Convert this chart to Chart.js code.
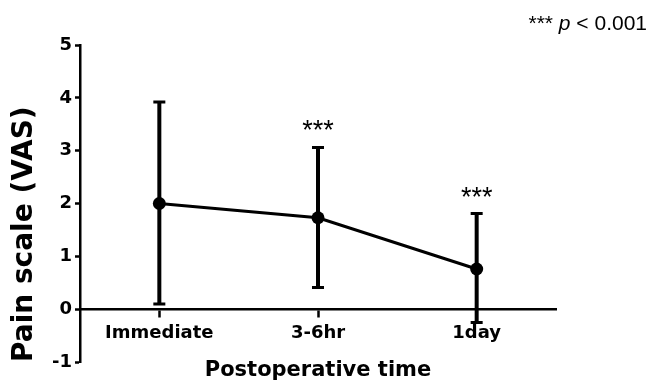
<!DOCTYPE html>
<html>
<head>
    <title>Pain scale</title>
    <script src="https://cdn.jsdelivr.net/npm/chart.js"></script>
    <style>
        body { margin: 0; background: #fff; }
        #wrap { width: 649px; height: 382px; position: relative; }
    </style>
</head>
<body>
<div id="wrap"><canvas id="painChart"></canvas></div>
<script>
    // values
    const timepoints = ['Immediate', '3-6hr', '1day'];
    const meanVas = [2.0, 1.73, 0.76];
    const lowerVas = [0.1, 0.41, -0.25];
    const upperVas = [3.92, 3.06, 1.81];
    const sigMarks = ['', '***', '***'];
    const yTicks = [-1, 0, 1, 2, 3, 4, 5];

    const axisFont = 'DejaVu Sans';

    // error bars + significance stars, placed with the chart's own scales
    const errorBars = {
        id: 'errorBars',
        beforeDatasetsDraw(chart) {
            const ctx = chart.ctx;
            const x = chart.scales.x;
            const y = chart.scales.y;
            ctx.save();
            ctx.strokeStyle = '#000';
            ctx.fillStyle = '#000';
            for (let i = 0; i < timepoints.length; i++) {
                const px = x.getPixelForValue(i);
                const top = y.getPixelForValue(upperVas[i]);
                const bot = y.getPixelForValue(lowerVas[i]);
                ctx.lineWidth = 4;
                ctx.beginPath();
                ctx.moveTo(px, top);
                ctx.lineTo(px, bot);
                ctx.stroke();
                ctx.lineWidth = 3;
                ctx.beginPath();
                ctx.moveTo(px - 6, top);
                ctx.lineTo(px + 6, top);
                ctx.moveTo(px - 6, bot);
                ctx.lineTo(px + 6, bot);
                ctx.stroke();
                if (sigMarks[i]) {
                    ctx.font = '27px "Liberation Sans"';
                    ctx.textAlign = 'center';
                    ctx.textBaseline = 'alphabetic';
                    ctx.fillText(sigMarks[i], px, top - 8);
                }
            }
            ctx.restore();
        }
    };

    const pNote = {
        id: 'pNote',
        afterDraw(chart) {
            const ctx = chart.ctx;
            ctx.save();
            ctx.fillStyle = '#000';
            ctx.textBaseline = 'alphabetic';
            ctx.textAlign = 'left';
            const parts = [
                ['*** ', '21px "Liberation Sans"'],
                ['p', 'italic 21px "Liberation Sans"'],
                [' < 0.001', '21px "Liberation Sans"']
            ];
            let w = 0;
            for (const p of parts) { ctx.font = p[1]; w += ctx.measureText(p[0]).width; }
            let cx = chart.width - 2 - w;
            for (const p of parts) {
                ctx.font = p[1];
                ctx.fillText(p[0], cx, 30);
                cx += ctx.measureText(p[0]).width;
            }
            ctx.restore();
        }
    };

    new Chart(document.getElementById('painChart').getContext('2d'), {
        type: 'line',
        data: {
            labels: timepoints,
            datasets: [{
                data: meanVas,
                borderColor: '#000',
                backgroundColor: '#000',
                borderWidth: 3,
                pointRadius: 6.5,
                pointBackgroundColor: '#000',
                pointBorderWidth: 0,
                fill: false,
                tension: 0
            }]
        },
        options: {
            responsive: true,
            maintainAspectRatio: false,
            animation: false,
            layout: { padding: { left: 0, right: 93, top: 45, bottom: 20 } },
            plugins: {
                legend: { display: false },
                tooltip: { enabled: false }
            },
            scales: {
                x: {
                    type: 'category',
                    position: { y: 0 },
                    offset: true,
                    afterFit(scale) { scale.height = 74; },
                    grid: {
                        offset: false,
                        drawOnChartArea: false,
                        drawTicks: true,
                        tickLength: 7,
                        tickWidth: 2.5,
                        tickColor: '#000'
                    },
                    border: { display: true, color: '#000', width: 2.5 },
                    ticks: {
                        color: '#000',
                        padding: 6,
                        font: { family: axisFont, size: 18, weight: 'bold' }
                    },
                    title: {
                        display: true,
                        text: 'Postoperative time',
                        color: '#000',
                        padding: 0,
                        font: { family: axisFont, size: 21, weight: 'bold' }
                    }
                },
                y: {
                    min: -1,
                    max: 5,
                    afterFit(scale) { scale.width = 80; },
                    afterBuildTicks(scale) { scale.ticks = yTicks.map(v => ({ value: v })); },
                    grid: {
                        drawOnChartArea: false,
                        drawTicks: true,
                        tickLength: 5,
                        tickWidth: 2.5,
                        tickColor: '#000'
                    },
                    border: { display: true, color: '#000', width: 2.5 },
                    ticks: {
                        color: '#000',
                        padding: 3,
                        font: { family: axisFont, size: 18, weight: 'bold' }
                    },
                    title: {
                        display: true,
                        text: 'Pain scale (VAS)',
                        align: 'start',
                        color: '#000',
                        padding: { top: 8, bottom: 0 },
                        font: { family: axisFont, size: 28, weight: 'bold' }
                    }
                }
            }
        },
        plugins: [errorBars, pNote]
    });
</script>
</body>
</html>
